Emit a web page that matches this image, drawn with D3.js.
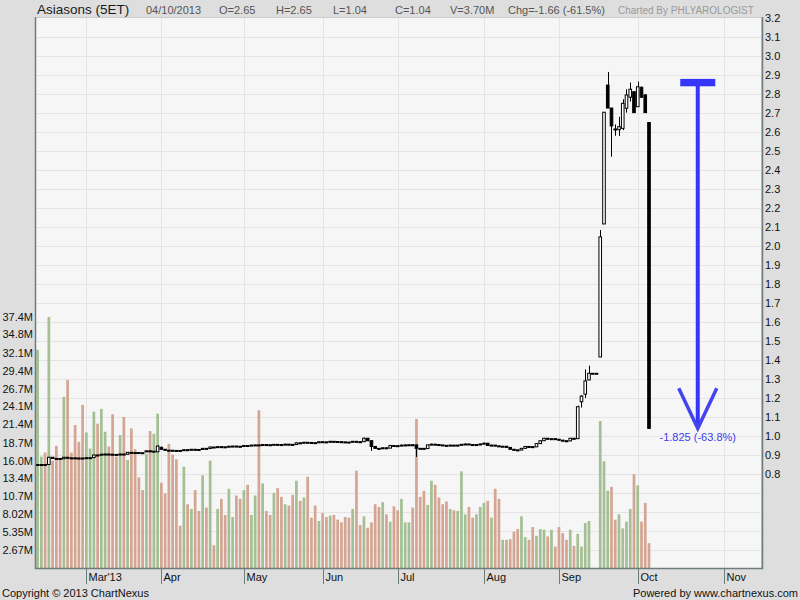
<!DOCTYPE html>
<html><head><meta charset="utf-8">
<script src="https://cdn.jsdelivr.net/npm/d3@7"></script>
<style>body{margin:0;background:#dedede;}svg{display:block;font-family:"Liberation Sans",Arial,sans-serif;}</style>
</head><body><svg id="c" width="800" height="600"></svg>
<script>
// ---------- DATA ----------
const openP = [
0.850,0.850,0.850,0.850,0.888,0.882,0.882,0.880,0.888,0.885,
0.885,0.884,0.884,0.883,0.886,0.886,0.900,0.899,0.904,0.905,
0.904,0.903,0.903,0.905,0.904,0.914,0.913,0.913,0.912,0.916,
0.922,0.918,0.917,0.940,0.930,0.925,0.925,0.924,0.924,0.923,
0.928,0.927,0.930,0.929,0.929,0.935,0.934,0.942,0.941,0.944,
0.943,0.942,0.946,0.947,0.946,0.945,0.950,0.949,0.952,0.953,
0.952,0.955,0.954,0.953,0.956,0.955,0.954,0.957,0.956,0.955,
0.964,0.963,0.967,0.966,0.965,0.964,0.970,0.969,0.968,0.972,
0.971,0.970,0.969,0.968,0.968,0.972,0.970,0.970,0.988,0.975,
0.945,0.935,0.934,0.938,0.936,0.950,0.949,0.948,0.952,0.953,
0.954,0.953,0.935,0.935,0.934,0.953,0.957,0.955,0.953,0.951,
0.950,0.952,0.951,0.952,0.956,0.958,0.955,0.953,0.955,0.958,
0.962,0.950,0.952,0.948,0.945,0.946,0.940,0.930,0.927,0.926,
0.935,0.945,0.944,0.943,0.960,0.975,0.988,0.984,0.986,0.983,
0.978,0.975,0.974,0.988,0.986,1.180,1.220,1.295,1.330,1.330,
1.416,2.116,2.847,2.726,2.616,2.612,2.619,2.725,2.783,2.812,
2.733,2.835,2.795,2.650];
const highP = [
0.850,0.852,0.850,0.890,0.890,0.884,0.882,0.890,0.888,0.887,
0.886,0.886,0.885,0.888,0.888,0.902,0.900,0.906,0.907,0.905,
0.905,0.904,0.906,0.906,0.916,0.914,0.914,0.914,0.913,0.924,
0.922,0.921,0.950,0.945,0.930,0.927,0.926,0.925,0.924,0.930,
0.929,0.931,0.930,0.930,0.937,0.935,0.944,0.943,0.945,0.945,
0.943,0.948,0.949,0.948,0.946,0.952,0.951,0.954,0.955,0.954,
0.956,0.956,0.955,0.958,0.957,0.955,0.959,0.958,0.956,0.966,
0.965,0.969,0.968,0.966,0.965,0.972,0.971,0.970,0.974,0.973,
0.972,0.971,0.969,0.970,0.974,0.973,0.971,0.992,0.990,0.977,
0.947,0.937,0.940,0.939,0.952,0.951,0.950,0.954,0.955,0.956,
0.955,0.955,0.937,0.936,0.955,0.959,0.958,0.956,0.953,0.952,
0.954,0.953,0.954,0.958,0.960,0.958,0.956,0.957,0.960,0.965,
0.963,0.954,0.953,0.950,0.948,0.947,0.941,0.932,0.929,0.937,
0.947,0.946,0.945,0.962,0.977,0.990,0.989,0.988,0.987,0.984,
0.980,0.977,0.990,0.990,1.160,1.215,1.350,1.370,1.330,1.330,
2.084,2.704,2.916,2.726,2.640,2.680,2.772,2.825,2.860,2.815,
2.865,2.840,2.800,2.650];
const lowP = [
0.846,0.848,0.846,0.850,0.880,0.880,0.878,0.880,0.883,0.883,
0.882,0.882,0.881,0.883,0.884,0.886,0.897,0.899,0.902,0.902,
0.901,0.901,0.903,0.902,0.904,0.911,0.911,0.910,0.910,0.916,
0.916,0.917,0.917,0.928,0.922,0.923,0.922,0.922,0.921,0.923,
0.925,0.927,0.927,0.927,0.929,0.932,0.934,0.939,0.941,0.941,
0.940,0.942,0.945,0.944,0.943,0.945,0.947,0.949,0.951,0.950,
0.952,0.952,0.951,0.953,0.953,0.952,0.954,0.954,0.953,0.955,
0.961,0.963,0.964,0.963,0.962,0.964,0.967,0.966,0.968,0.969,
0.968,0.967,0.966,0.966,0.968,0.968,0.967,0.969,0.973,0.922,
0.933,0.932,0.934,0.934,0.936,0.947,0.946,0.948,0.951,0.952,
0.951,0.890,0.933,0.932,0.934,0.953,0.953,0.951,0.949,0.948,
0.950,0.949,0.950,0.952,0.956,0.953,0.951,0.953,0.955,0.958,
0.948,0.950,0.946,0.943,0.944,0.938,0.928,0.925,0.922,0.926,
0.935,0.942,0.941,0.943,0.960,0.975,0.982,0.984,0.981,0.976,
0.973,0.972,0.974,0.984,0.986,1.150,1.200,1.295,1.330,1.330,
1.416,2.116,2.726,2.470,2.580,2.579,2.610,2.702,2.760,2.700,
2.733,2.780,2.700,1.040];
const closeP = [
0.850,0.850,0.848,0.888,0.882,0.882,0.880,0.888,0.885,0.885,
0.884,0.884,0.883,0.886,0.886,0.900,0.899,0.904,0.905,0.904,
0.903,0.903,0.905,0.904,0.914,0.913,0.913,0.912,0.912,0.922,
0.918,0.920,0.947,0.930,0.925,0.925,0.924,0.924,0.923,0.928,
0.927,0.930,0.929,0.929,0.935,0.934,0.942,0.941,0.944,0.943,
0.942,0.946,0.947,0.946,0.945,0.950,0.949,0.952,0.953,0.952,
0.955,0.954,0.953,0.956,0.955,0.954,0.957,0.956,0.955,0.964,
0.963,0.967,0.966,0.965,0.964,0.970,0.969,0.968,0.972,0.971,
0.970,0.969,0.968,0.968,0.972,0.970,0.969,0.988,0.975,0.945,
0.935,0.934,0.938,0.936,0.950,0.949,0.948,0.952,0.953,0.954,
0.953,0.935,0.935,0.934,0.953,0.957,0.955,0.953,0.951,0.950,
0.952,0.951,0.952,0.956,0.958,0.955,0.953,0.955,0.958,0.962,
0.950,0.952,0.948,0.945,0.946,0.940,0.930,0.927,0.926,0.935,
0.945,0.944,0.943,0.960,0.975,0.988,0.984,0.986,0.983,0.978,
0.975,0.974,0.988,0.986,1.154,1.210,1.290,1.330,1.330,1.330,
2.048,2.704,2.726,2.632,2.616,2.628,2.751,2.795,2.825,2.702,
2.838,2.783,2.702,1.040];
// volume in millions
const volumeM = [
32.5,16.6,17.2,37.4,16.0,18.2,16.1,25.5,28.0,17.2,
21.3,18.8,24.3,20.2,17.8,23.3,21.5,23.7,20.3,18.1,
22.9,16.6,19.8,22.5,16.1,20.8,17.7,13.5,11.6,17.0,
20.4,20.0,23.0,12.7,11.1,18.5,16.9,16.2,6.3,15.1,
9.5,8.8,11.6,8.5,13.8,9.0,16.0,3.4,8.8,10.3,
7.9,11.8,7.6,10.8,10.3,11.6,12.4,7.9,10.8,23.5,
12.6,8.5,7.9,11.2,11.9,10.6,9.5,9.3,10.9,13.0,
10.0,10.5,13.6,7.5,9.3,7.0,8.2,7.6,7.8,7.9,
7.2,6.8,7.6,7.5,8.8,14.5,6.4,7.7,6.0,6.8,
9.5,9.1,9.8,8.0,6.9,9.2,8.6,10.3,6.8,6.8,
9.0,22.2,10.6,11.5,9.4,13.0,12.4,10.5,9.5,9.9,
8.8,8.6,8.5,14.4,8.0,9.1,7.5,8.0,9.1,9.7,
10.0,7.5,11.8,10.3,4.2,4.2,4.3,5.4,5.8,7.7,
4.6,4.2,6.1,4.8,5.8,5.7,4.7,5.7,3.2,6.1,
5.2,4.2,5.7,3.3,5.1,3.2,6.7,7.0,0,0,
21.9,15.9,11.5,12.1,7.2,8.0,5.9,6.9,8.8,14.0,
12.3,6.9,9.7,3.7];
// volume bar direction: u = up (green), d = down (red)
const volDirList = [
"u","u","d","u","d","d","d","u","d","d",
"d","d","d","u","u","u","d","u","u","d",
"d","d","u","d","u","d","d","d","d","u",
"d","u","u","d","d","d","d","d","d","u",
"d","u","d","d","u","d","u","d","u","d",
"d","u","u","d","d","u","d","u","u","d",
"u","d","d","u","d","d","u","d","d","u",
"d","u","d","d","d","u","d","d","u","d",
"d","d","d","d","u","d","d","u","d","d",
"d","d","u","d","u","d","d","u","u","u",
"d","d","d","d","u","u","d","d","d","d",
"u","d","u","u","u","d","d","u","u","u",
"d","u","d","d","u","d","d","d","d","u",
"u","d","d","u","u","u","d","u","d","d",
"d","d","u","d","u","u","u","u","u","u",
"u","u","u","d","d","u","u","u","u","d",
"u","d","d","d"];
const monthLabels = ["Mar'13","Apr","May","Jun","Jul","Aug","Sep","Oct","Nov"];
const monthIndex = [13,33,55,76,96,119,139,160,183];
const priceTicks = [3.2,3.1,3.0,2.9,2.8,2.7,2.6,2.5,2.4,2.3,2.2,2.1,2.0,1.9,1.8,1.7,1.6,1.5,1.4,1.3,1.2,1.1,1.0,0.9,0.8];
const volTicks = [2.67,5.35,8.02,10.7,13.4,16.0,18.7,21.4,24.1,26.7,29.4,32.1,34.8,37.4];
const volTickLabels = ["2.67M","5.35M","8.02M","10.7M","13.4M","16.0M","18.7M","21.4M","24.1M","26.7M","29.4M","32.1M","34.8M","37.4M"];
const headerItems = ["04/10/2013","O=2.65","H=2.65","L=1.04","C=1.04","V=3.70M","Chg=-1.66 (-61.5%)"];
const annIndex = 176, annFrom = 2.86, annTo = 1.035, annLabel = "-1.825 (-63.8%)";

// ---------- DRAW ----------
const svg = d3.select("#c");
const P = {l:35, r:762, t:17, b:568};
svg.append("rect").attr("width",800).attr("height",600).attr("fill","#dedede");
svg.append("rect").attr("x",P.l).attr("y",P.t).attr("width",P.r-P.l).attr("height",P.b-P.t).attr("fill","#f6f6f6");

const x = d3.scaleLinear().domain([0,163]).range([37.6,649]);
const yP = d3.scaleLinear().domain([0.3,3.2]).range([569,18]);
const yV = d3.scaleLinear().domain([0,37.4]).range([568,317]);

svg.append("clipPath").attr("id","pc").append("rect")
  .attr("x",P.l).attr("y",P.t).attr("width",P.r-P.l).attr("height",P.b-P.t);
const g = svg.append("g").attr("clip-path","url(#pc)");

// grid
g.selectAll("line.hg").data(yP.ticks(30).filter(v=>v>0.31 && v<3.19)).join("line")
  .attr("x1",P.l).attr("x2",P.r).attr("y1",d=>Math.round(yP(d))+0.5).attr("y2",d=>Math.round(yP(d))+0.5)
  .attr("stroke","#e4e4e4").attr("stroke-width",1);
g.selectAll("line.vg").data(monthIndex).join("line")
  .attr("x1",d=>Math.round(x(d))+0.5).attr("x2",d=>Math.round(x(d))+0.5).attr("y1",P.t).attr("y2",P.b)
  .attr("stroke","#e4e4e4").attr("stroke-width",1);

// volume
const idx = d3.range(volumeM.length);
g.selectAll("rect.v").data(idx).join("rect")
  .attr("x",i=>x(i)-1.35).attr("width",2.7)
  .attr("y",i=>yV(volumeM[i])).attr("height",i=>yV(0)-yV(volumeM[i]))
  .attr("fill",i=>volDirList[i]==="u"?"#a3bf93":"#d3a592");

// candles
const cg = g.append("g");
cg.selectAll("line.w").data(idx).join("line")
  .attr("x1",i=>Math.round(x(i))+0.5).attr("x2",i=>Math.round(x(i))+0.5)
  .attr("y1",i=>yP(highP[i])).attr("y2",i=>yP(lowP[i]))
  .attr("stroke","#000").attr("stroke-width",1);
cg.selectAll("rect.b").data(idx).join("rect")
  .attr("x",i=>x(i)-1.3).attr("width",2.6)
  .attr("y",i=>yP(Math.max(openP[i],closeP[i])))
  .attr("height",i=>Math.max(1,Math.abs(yP(openP[i])-yP(closeP[i]))))
  .attr("fill",i=>closeP[i]<openP[i]?"#000":"#fff")
  .attr("stroke","#000").attr("stroke-width",1);

// annotation
const ax = x(annIndex), yTop = yP(annFrom), yBot = yP(annTo);
const blue = "#3535fb";
svg.append("rect").attr("x",ax-17.5).attr("y",yTop-3.7).attr("width",35).attr("height",7.4).attr("fill",blue);
svg.append("line").attr("x1",ax).attr("x2",ax).attr("y1",yTop).attr("y2",yBot-3).attr("stroke",blue).attr("stroke-width",4);
svg.append("path").attr("d",`M${ax-19},${yBot-41} L${ax},${yBot-1} L${ax+19},${yBot-41}`)
  .attr("fill","none").attr("stroke","#4545f0").attr("stroke-width",3.5);
svg.append("text").attr("x",ax).attr("y",yBot+12).attr("text-anchor","middle")
  .attr("font-size",11).attr("fill","#3c3cf0").text(annLabel);

// frame
svg.append("rect").attr("x",P.l+0.5).attr("y",P.t+0.5).attr("width",P.r-P.l-1).attr("height",P.b-P.t)
  .attr("fill","none").attr("stroke","#c8cccc");
svg.append("path").attr("d",`M${P.l+0.5},${P.t} V${P.b+0.5} H${P.r+0.5} V${P.t}`)
  .attr("fill","none").attr("stroke","#6f7c7c").attr("stroke-width",1.5);

// right price axis
const ra = svg.append("g").attr("transform",`translate(${P.r},0)`)
  .call(d3.axisRight(yP).tickValues(priceTicks).tickSize(0).tickPadding(3).tickFormat(d3.format(".1f")));
ra.select(".domain").remove();
ra.selectAll("text").attr("font-size",11).attr("fill","#111").attr("font-family","Liberation Sans, Arial, sans-serif");

// left volume axis
const la = svg.append("g").attr("transform",`translate(${P.l},0)`)
  .call(d3.axisLeft(yV).tickValues(volTicks).tickSize(0).tickPadding(2).tickFormat((d,i)=>volTickLabels[i]));
la.select(".domain").remove();
la.selectAll("text").attr("font-size",11).attr("fill","#111").attr("font-family","Liberation Sans, Arial, sans-serif");

// bottom month ticks
const ba = svg.append("g");
ba.selectAll("line").data(monthIndex).join("line")
  .attr("x1",d=>Math.round(x(d))+0.5).attr("x2",d=>Math.round(x(d))+0.5)
  .attr("y1",P.b).attr("y2",P.b+16).attr("stroke","#6f7c7c").attr("stroke-width",1);
ba.selectAll("text").data(monthIndex).join("text")
  .attr("x",d=>Math.round(x(d))+2.5).attr("y",P.b+13).attr("font-size",11).attr("fill","#111")
  .text((d,i)=>monthLabels[i]);

// header
svg.append("text").attr("x",37).attr("y",14).attr("font-size",13.5).attr("fill","#1a1a1a").text("Asiasons (5ET)");
const hx = [146,219,276,333,395,450,508];
svg.selectAll("text.h").data(headerItems).join("text")
  .attr("x",(d,i)=>hx[i]).attr("y",14).attr("font-size",11).attr("fill","#555").text(d=>d);
svg.append("text").attr("x",618).attr("y",14).attr("font-size",10).attr("fill","#9a9a9a").text("Charted By PHLYAROLOGIST");

// footer
svg.append("text").attr("x",2).attr("y",597).attr("font-size",11).attr("fill","#111").text("Copyright © 2013 ChartNexus");
svg.append("text").attr("x",798).attr("y",597).attr("text-anchor","end").attr("font-size",11).attr("fill","#111").text("Powered by www.chartnexus.com");
</script></body></html>
